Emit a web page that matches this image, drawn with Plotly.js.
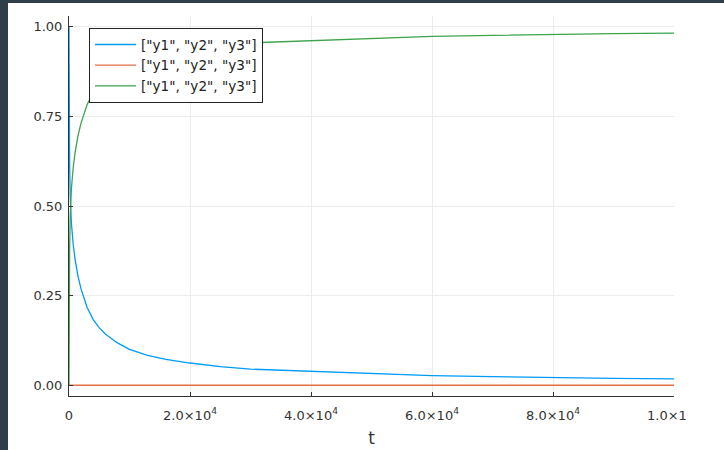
<!DOCTYPE html>
<html>
<head>
<meta charset="utf-8">
<script src="https://cdn.plot.ly/plotly-3.0.1.min.js"></script>
<style>
  html, body { margin: 0; padding: 0; width: 724px; height: 450px; overflow: hidden; background: #2f3f49; }
  #page { position: absolute; left: 8px; top: 3px; width: 716px; height: 447px; background: #ffffff; }
  #clip { position: absolute; left: 0; top: 0; width: 679px; height: 447px; overflow: hidden; }
  #chart { width: 720px; height: 447px; }
</style>
</head>
<body>
<div id="page"><div id="clip"><div id="chart"></div></div></div>
<script>
// time points (t)
const t = [0, 0.4, 4, 40, 100, 200, 400, 700, 1000, 1500, 2000, 3000, 4000, 5000, 6000, 8000,
           10000, 13000, 16000, 20000, 25000, 30000, 40000, 50000, 60000, 70000, 80000, 90000, 100000];
// series 1 (blue)
const y1 = [1.0, 0.985, 0.906, 0.716, 0.618, 0.530, 0.451, 0.392, 0.352, 0.303, 0.268, 0.217, 0.183,
            0.160, 0.143, 0.118, 0.100, 0.083, 0.072, 0.062, 0.052, 0.045, 0.039, 0.031, 0.027,
            0.024, 0.021, 0.019, 0.018];
// series 2 (orange) - essentially zero
const y2 = [0.0, 3.4e-5, 2.2e-5, 1.9e-5, 1.6e-5, 1.2e-5, 8.5e-6, 6e-6, 4.5e-6, 3.2e-6, 2.4e-6, 1.4e-6,
            9e-7, 7.5e-7, 6.5e-7, 5e-7, 4e-7, 3.2e-7, 2.7e-7, 2.2e-7, 1.8e-7, 1.6e-7, 1.6e-7, 1.3e-7,
            1.1e-7, 9e-8, 8e-8, 7e-8, 6e-8];
// series 3 (green)
const y3 = [0.0, 0.015, 0.094, 0.284, 0.382, 0.470, 0.549, 0.608, 0.648, 0.697, 0.732, 0.783, 0.817,
            0.840, 0.857, 0.882, 0.900, 0.917, 0.928, 0.938, 0.948, 0.955, 0.961, 0.969, 0.973,
            0.976, 0.979, 0.981, 0.982];
const seriesName = '["y1", "y2", "y3"]';
const xTickVals = [0, 20000, 40000, 60000, 80000, 100000];
const xTickText = ['0', '2.0×10<sup>4</sup>', '4.0×10<sup>4</sup>', '6.0×10<sup>4</sup>', '8.0×10<sup>4</sup>', '1.0×10<sup>5</sup>'];
const yTickVals = [0, 0.25, 0.5, 0.75, 1.0];
const yTickText = ['0.00', '0.25', '0.50', '0.75', '1.00'];
const colors = ['#009af9', '#e26f46', '#3da44d'];

const series = [y1, y2, y3];
const traces = series.map((ys, i) => ({
  x: t, y: ys, type: 'scatter', mode: 'lines', name: seriesName,
  line: { color: colors[i], width: 1.3 }
}));

const font = "'DejaVu Sans', sans-serif";
const layout = {
  width: 720, height: 447,
  margin: { l: 61, r: 54, t: 13, b: 54 },
  paper_bgcolor: '#ffffff', plot_bgcolor: '#ffffff',
  font: { family: font, size: 13, color: '#333' },
  showlegend: true,
  legend: {
    x: 0.033, y: 0.968, xanchor: 'left', yanchor: 'top',
    bgcolor: '#ffffff', bordercolor: '#222', borderwidth: 1,
    font: { family: font, size: 13.6, color: '#222' },
    itemwidth: 41,
    tracegroupgap: 0
  },
  xaxis: {
    range: [0, 100000], tickvals: xTickVals, ticktext: xTickText,
    showline: true, linecolor: '#333', linewidth: 1, mirror: false,
    ticks: 'inside', ticklen: 4, tickcolor: '#333', ticklabelstandoff: 7,
    showgrid: true, gridcolor: '#ececec', gridwidth: 1, zeroline: false,
    tickfont: { family: font, size: 13, color: '#333' },
    title: { text: 't', font: { family: font, size: 17, color: '#333' }, standoff: 10 }
  },
  yaxis: {
    range: [-0.03, 1.03], tickvals: yTickVals, ticktext: yTickText,
    showline: true, linecolor: '#333', linewidth: 1, mirror: false,
    ticks: 'inside', ticklen: 4, tickcolor: '#333', ticklabelstandoff: 3,
    showgrid: true, gridcolor: '#ececec', gridwidth: 1, zeroline: false,
    tickfont: { family: font, size: 13, color: '#333' }
  }
};
Plotly.newPlot('chart', traces, layout, { displayModeBar: false, staticPlot: true });
</script>
</body>
</html>
